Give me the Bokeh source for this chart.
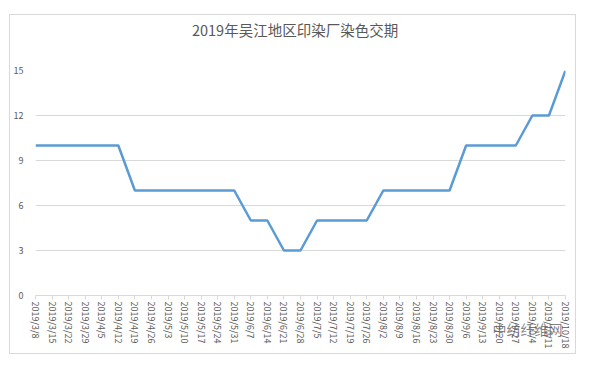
from bokeh.plotting import figure
from bokeh.models import FixedTicker, Range1d, LinearAxis
from bokeh.embed import file_html
from bokeh.resources import INLINE

dates = ["2019/3/8", "2019/3/15", "2019/3/22", "2019/3/29", "2019/4/5", "2019/4/12",
         "2019/4/19", "2019/4/26", "2019/5/3", "2019/5/10", "2019/5/17", "2019/5/24",
         "2019/5/31", "2019/6/7", "2019/6/14", "2019/6/21", "2019/6/28", "2019/7/5",
         "2019/7/12", "2019/7/19", "2019/7/26", "2019/8/2", "2019/8/9", "2019/8/16",
         "2019/8/23", "2019/8/30", "2019/9/6", "2019/9/13", "2019/9/20", "2019/9/27",
         "2019/10/4", "2019/10/11", "2019/10/18"]
values = [10, 10, 10, 10, 10, 10,
          7, 7, 7, 7, 7, 7, 7,
          5, 5, 3, 3,
          5, 5, 5, 5,
          7, 7, 7, 7, 7,
          10, 10, 10, 10,
          12, 12, 15]
y_ticks = [0, 3, 6, 9, 12, 15]
title_text = "2019年吴江地区印染厂染色交期"
title_pos = 15.67
watermark = "中纺纤维网"
watermark_pos = 29.7

xs = list(range(len(dates)))

p = figure(width=567, height=340, output_backend="svg", toolbar_location=None,
           x_range=Range1d(0, len(dates) - 1), y_range=Range1d(0, 15),
           min_border_left=23, min_border_right=12, min_border_top=55, min_border_bottom=60)
p.margin = (14, 0, 0, 9)
p.styles = {"border": "1px solid #d9d9d9"}
p.outline_line_color = None
p.background_fill_color = "white"
p.border_fill_color = "white"

# main axes (grab them before any extra axis is added)
xa = p.below[0]
ya = p.left[0]

p.line(xs, values, line_color="#5b9bd5", line_width=2.5)

# x axis
xa.ticker = FixedTicker(ticks=xs)
xa.major_label_overrides = {i: d for i, d in enumerate(dates)}
xa.major_label_orientation = "vertical"
xa.major_label_text_font = "Noto Sans CJK SC"
xa.major_label_text_font_size = "9px"
xa.major_label_text_color = "#595959"
xa.axis_line_color = "#d9d9d9"
xa.major_tick_line_color = "#d9d9d9"
xa.major_tick_out = 4
xa.major_tick_in = 0
xa.minor_tick_line_color = None
xa.major_label_standoff = 2

# y axis
ya.ticker = FixedTicker(ticks=y_ticks)
ya.axis_line_color = None
ya.major_tick_line_color = None
ya.minor_tick_line_color = None
ya.major_label_text_font = "Noto Sans CJK SC"
ya.major_label_text_font_size = "9px"
ya.major_label_text_color = "#595959"
ya.major_label_standoff = 6

p.xgrid.grid_line_color = None
p.ygrid.grid_line_color = "#d9d9d9"
p.ygrid.ticker = FixedTicker(ticks=y_ticks)

# chart title, placed as the single label of a line-less axis above the frame
ta = LinearAxis(ticker=FixedTicker(ticks=[title_pos]),
                major_label_overrides={title_pos: title_text},
                axis_line_color=None, major_tick_line_color=None, minor_tick_line_color=None,
                major_label_standoff=25, major_label_text_font="Noto Sans CJK SC",
                major_label_text_font_size="14.5px", major_label_text_color="#595959")
p.add_layout(ta, "above")

# watermark drawn as a second, line-less axis whose single label overlaps the date labels
wa = LinearAxis(ticker=FixedTicker(ticks=[watermark_pos]),
                major_label_overrides={watermark_pos: watermark},
                axis_line_color=None, major_tick_line_color=None, minor_tick_line_color=None,
                major_label_standoff=-39, major_label_text_font="Noto Sans CJK SC",
                major_label_text_font_size="14px", major_label_text_color="#595959",
                major_label_text_alpha=0.75)
p.add_layout(wa, "below")

open("out.html", "w").write(file_html(p, INLINE))
